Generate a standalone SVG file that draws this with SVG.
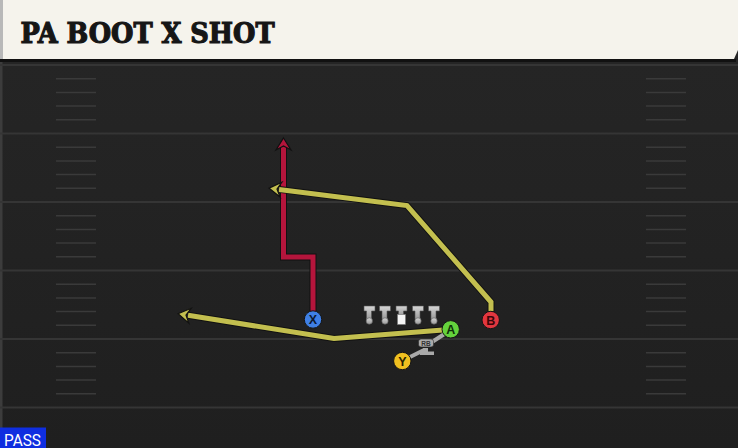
<svg xmlns="http://www.w3.org/2000/svg" width="738" height="448" viewBox="0 0 738 448">
<defs>
<linearGradient id="bg" x1="0" y1="0" x2="0" y2="1">
<stop offset="0" stop-color="#262626"/>
<stop offset="1" stop-color="#1f1f1f"/>
</linearGradient>
<linearGradient id="lin" x1="0" y1="0" x2="0" y2="1">
<stop offset="0" stop-color="#d6d6d6"/>
<stop offset="1" stop-color="#9a9a9a"/>
</linearGradient>
</defs>
<style>
.field{stroke:#353535;stroke-width:2}
.hash{stroke:#3a3a3a;stroke-width:1.5}
.under{fill:none;stroke:#111;stroke-width:7;stroke-linejoin:miter}
.ry{fill:none;stroke:#c3bf4f;stroke-width:5;stroke-linejoin:miter}
.rr{fill:none;stroke:#b5153c;stroke-width:5;stroke-linejoin:miter}
.ahy{fill:#c3bf4f;stroke:#111;stroke-width:1.2;stroke-linejoin:miter}
.ahr{fill:#b5153c;stroke:#111;stroke-width:1.2;stroke-linejoin:miter}
.rg{fill:none;stroke:#a9a9a9;stroke-width:4}
.pl{stroke:#151515;stroke-width:1}
.lbl{font-family:"Liberation Sans",Arial,sans-serif;font-weight:bold;font-size:12.5px;text-anchor:middle}
.ln{fill:url(#lin);stroke:#555;stroke-width:0.6}
</style>
<rect width="738" height="448" fill="url(#bg)"/>
<rect x="0" y="0" width="2.5" height="448" fill="#3c3c3c"/>
<g id="field">
<line class="field" x1="0" y1="65" x2="738" y2="65"/>
<line class="field" x1="0" y1="133.5" x2="738" y2="133.5"/>
<line class="field" x1="0" y1="202" x2="738" y2="202"/>
<line class="field" x1="0" y1="270.5" x2="738" y2="270.5"/>
<line class="field" x1="0" y1="339" x2="738" y2="339"/>
<line class="field" x1="0" y1="407.5" x2="738" y2="407.5"/>
</g>
<g id="hashes">
<path class="hash" d="M56,78.7H96M56,92.4H96M56,106.1H96M56,119.8H96M56,147.2H96M56,160.9H96M56,174.6H96M56,188.3H96M56,215.7H96M56,229.4H96M56,243.1H96M56,256.8H96M56,284.2H96M56,297.9H96M56,311.6H96M56,325.3H96M56,352.7H96M56,366.4H96M56,380.1H96M56,393.8H96"/>
<path class="hash" d="M646,78.7H686M646,92.4H686M646,106.1H686M646,119.8H686M646,147.2H686M646,160.9H686M646,174.6H686M646,188.3H686M646,215.7H686M646,229.4H686M646,243.1H686M646,256.8H686M646,284.2H686M646,297.9H686M646,311.6H686M646,325.3H686M646,352.7H686M646,366.4H686M646,380.1H686M646,393.8H686"/>
</g>
<g id="header">
<rect x="0" y="59" width="736" height="3" fill="#111"/>
<path d="M0,0 H738 V50 L734,59 H0 Z" fill="#f5f3ec"/>
<rect x="0" y="0" width="3" height="59" fill="#b8b8b8"/>
<text x="20.5" y="43" font-family="'DejaVu Serif Condensed','DejaVu Serif',serif" font-weight="bold" font-size="27" textLength="254" lengthAdjust="spacingAndGlyphs" fill="#161616" stroke="#161616" stroke-width="1.1">PA BOOT X SHOT</text>
</g>
<g id="connectors">
<polyline class="under" points="313,311 313,257 283.5,257 283.5,147"/>
<polyline class="rr" points="313,311 313,257 283.5,257 283.5,147"/>
<polygon class="ahr" points="283.5,138 291,150 283.5,146 276,150"/>
<polyline class="under" points="491,311 491,302 407,205.5 279,189.4"/>
<polyline class="ry" points="491,311 491,302 407,205.5 279,189.4"/>
<polygon class="ahy" points="269.1,188.1 281.9,182.2 277.0,189.1 280.1,197.0"/>
<polyline class="under" points="443,330 334,338.5 188,315.3"/>
<polyline class="ry" points="443,330 334,338.5 188,315.3"/>
<polygon class="ahy" points="178.1,313.8 191.1,308.3 186.0,315.1 188.8,323.1"/>
<line class="rg" x1="402" y1="361" x2="424" y2="350"/>
<line class="rg" x1="432" y1="342" x2="446" y2="333"/>
<path d="M420,351.5 H434 V355 H420 Z" fill="#a9a9a9"/>
<path d="M423,348 H428 V352 H423 Z" fill="#a9a9a9"/>
</g>
<g id="linemen">
<g class="ln">
<path d="M364,306 H375 V311 H371.5 V319 H366.5 V311 H364 Z"/>
<circle cx="369.3" cy="321" r="3.2"/>
<path d="M379.5,306 H390.5 V311 H387 V319 H382 V311 H379.5 Z"/>
<circle cx="385" cy="321" r="3.2"/>
<path d="M396,306 H407 V311 H403.5 V315 H398.5 V311 H396 Z"/>
<path d="M412.5,306 H423.5 V311 H420 V319 H415 V311 H412.5 Z"/>
<circle cx="418" cy="321" r="3.2"/>
<path d="M428.5,306 H439.5 V311 H436 V319 H431 V311 H428.5 Z"/>
<circle cx="434" cy="321" r="3.2"/>
</g>
<rect x="397.5" y="314.5" width="8" height="10" fill="#f5f5f5" stroke="#777" stroke-width="0.6"/>
</g>
<g id="RB">
<rect x="418.5" y="339" width="15" height="8" rx="2.5" fill="#a9a9a9" stroke="#222" stroke-width="0.6"/>
<text x="426" y="345.5" font-family="'Liberation Sans',Arial,sans-serif" font-weight="bold" font-size="6.5" text-anchor="middle" fill="#333">RB</text>
</g>
<g id="X">
<circle class="pl" cx="313" cy="319.5" r="8.7" fill="#3f80e6"/>
<text class="lbl" x="313" y="324" fill="#0d1a33">X</text>
</g>
<g id="B">
<circle class="pl" cx="490.7" cy="320" r="8.7" fill="#e2363f"/>
<text class="lbl" x="490.7" y="324.5" fill="#3a0608">B</text>
</g>
<g id="A">
<circle class="pl" cx="450.7" cy="329.3" r="8.7" fill="#64d23c"/>
<text class="lbl" x="450.7" y="333.8" fill="#0d3008">A</text>
</g>
<g id="Y">
<circle class="pl" cx="402.3" cy="361" r="8.7" fill="#f0c020"/>
<text class="lbl" x="402.3" y="365.5" fill="#2a1f00">Y</text>
</g>
<g id="pass">
<rect x="0" y="427.5" width="46" height="20.5" fill="#0f2ee0"/>
<text x="4" y="445.5" font-family="Roboto,'Liberation Sans',sans-serif" font-size="17" textLength="37" lengthAdjust="spacingAndGlyphs" fill="#ffffff">PASS</text>
</g>
</svg>
